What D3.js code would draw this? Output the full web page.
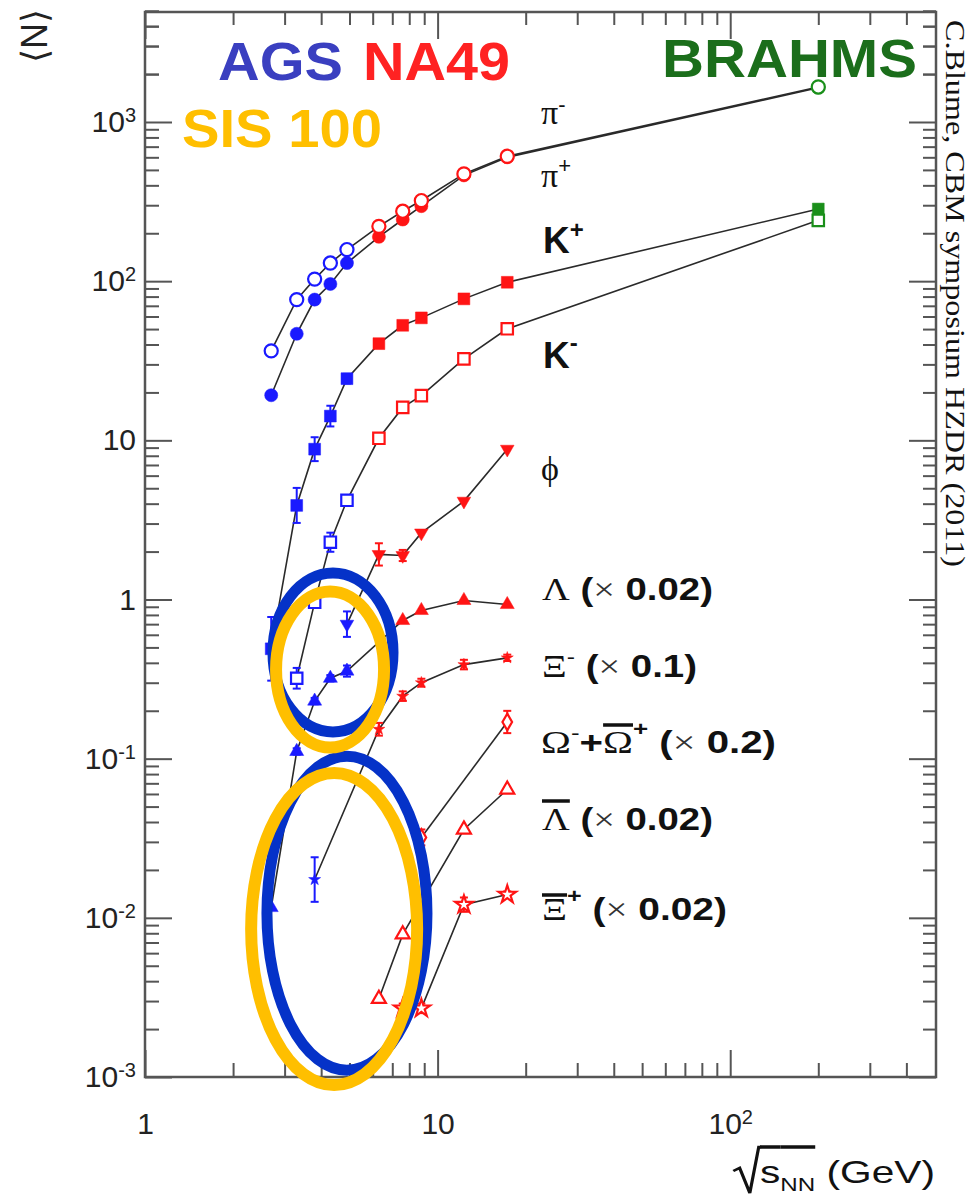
<!DOCTYPE html>
<html>
<head>
<meta charset="utf-8">
<script src="https://cdn.jsdelivr.net/npm/d3@7"></script>
<style>
  body { margin: 0; background: #fff; }
  svg { display: block; }
  text { white-space: pre; }
</style>
</head>
<body>
<script>
// beam energies sqrt(s_NN) in GeV, and which experiment measured them
const energy = [2.7, 3.3, 3.8, 4.3, 4.9, 6.3, 7.6, 8.8, 12.3, 17.3, 200];
const experiment = ['AGS', 'AGS', 'AGS', 'AGS', 'AGS', 'NA49', 'NA49', 'NA49', 'NA49', 'NA49', 'BRAHMS'];

// yields <N>, null = no point
const piMinus   = [36.5, 76.6, 103, 130, 158, 221, 275, 321, 472, 609, 1660];
const piPlus    = [19.2, 46.7, 76.6, 96, 130, 190, 244, 296, 462, 600, 1640];
const kPlus     = [0.49, 3.9, 8.8, 14.2, 24.4, 40.5, 52.8, 58.8, 77.4, 98.4, 284];
const kMinus    = [null, 0.32, 0.96, 2.29, 4.2, 10.3, 16.1, 19.1, 32.5, 50.2, 241];
const phi       = [null, null, null, null, 0.70, 1.92, 1.89, 2.62, 4.15, 8.8, null];
const lambda    = [0.0116, 0.111, 0.23, 0.32, 0.355, null, 0.738, 0.853, 0.986, 0.93, null];
const xiMinus   = [null, null, 0.0174, null, null, 0.153, 0.247, 0.30, 0.39, 0.43, null];
const omega     = [null, null, null, null, null, null, null, 0.032, null, 0.17, null];
const lambdaBar = [null, null, null, null, null, 0.0031, 0.00787, null, 0.0359, 0.064, null];
const xiBar     = [null, null, null, null, null, null, 0.0027, 0.0027, 0.0121, 0.014, null];

// error bars, half-length in decades
const kPlusErr   = [0.2, 0.11, 0.075, 0.065, 0.03, 0, 0, 0, 0, 0, 0];
const kMinusErr  = [0, 0.065, 0, 0.06, 0.03, 0, 0, 0, 0, 0, 0];
const phiErr     = [0, 0, 0, 0, 0.08, 0.07, 0.035, 0, 0, 0, 0];
const lambdaErr  = [0, 0.02, 0.02, 0.02, 0.035, 0, 0, 0, 0, 0, 0];
const xiMinusErr = [0, 0, 0.14, 0, 0, 0.04, 0.03, 0.025, 0.03, 0.02, 0];
const omegaErr   = [0, 0, 0, 0, 0, 0, 0, 0.05, 0, 0.07, 0];
const xiBarErr   = [0, 0, 0, 0, 0, 0, 0.03, 0.03, 0.045, 0.02, 0];

const xMajor = [1, 10, 100];
const xMinor = [2, 3, 4, 5, 6, 7, 8, 9, 20, 30, 40, 50, 60, 70, 80, 90, 200, 300, 400];
const yMajor = [1e-3, 1e-2, 1e-1, 1, 10, 100, 1000];

// highlighted regions: centre in data coords
const rings = [
  { e: 4.39, v: 0.465, rx: 60, ry: 79.5, color: '#0532c8', w: 11 },
  { e: 4.90, v: 0.0107, rx: 80, ry: 157, color: '#0532c8', w: 11 },
  { e: 4.29, v: 0.363, rx: 54, ry: 78, color: '#ffbf00', w: 12 },
  { e: 4.43, v: 0.0085, rx: 83, ry: 156, color: '#ffbf00', w: 12 }
];

const W = 971, H = 1198;
const SANS = '"Liberation Sans", Arial, sans-serif';
const SERIF = '"Liberation Serif", "Times New Roman", serif';
const AXIS = '#555';
const colors = { AGS: '#1a1aff', NA49: '#ff1414', BRAHMS: '#1a8f1a' };

const svg = d3.select('body').append('svg').attr('width', W).attr('height', H);

const x = d3.scaleLog().domain([1, 505]).range([145, 936]);
const y = d3.scaleLog().domain([1e-3, 4910]).range([1077, 12]);
const [x0, x1] = x.range();
const [y0, y1] = y.range();

// ---- axes (ticks inside on all four sides) ----
const yMinor = [];
yMajor.forEach(d => { for (let k = 2; k <= 9; k++) yMinor.push(d * k); });
yMinor.push(2000, 3000, 4000);

function styleAxis(g) {
  g.select('.domain').remove();
  g.selectAll('.tick line').attr('stroke', AXIS).attr('stroke-width', 2);
}

svg.append('g').attr('transform', `translate(0,${y0})`)
  .call(d3.axisBottom(x).tickValues(xMinor).tickSize(-14).tickFormat(''))
  .call(styleAxis);
const xAxisG = svg.append('g').attr('transform', `translate(0,${y0})`)
  .call(d3.axisBottom(x).tickValues(xMajor).tickSize(-27).tickPadding(36).tickFormat(''))
  .call(styleAxis);
svg.append('g').attr('transform', `translate(0,${y1})`)
  .call(d3.axisTop(x).tickValues(xMinor).tickSize(-13).tickFormat(''))
  .call(styleAxis);
svg.append('g').attr('transform', `translate(0,${y1})`)
  .call(d3.axisTop(x).tickValues(xMajor).tickSize(-27).tickFormat(''))
  .call(styleAxis);

svg.append('g').attr('transform', `translate(${x0},0)`)
  .call(d3.axisLeft(y).tickValues(yMinor).tickSize(-14).tickFormat(''))
  .call(styleAxis);
const yAxisG = svg.append('g').attr('transform', `translate(${x0},0)`)
  .call(d3.axisLeft(y).tickValues(yMajor).tickSize(-27).tickPadding(9).tickFormat(''))
  .call(styleAxis);
svg.append('g').attr('transform', `translate(${x1},0)`)
  .call(d3.axisRight(y).tickValues(yMinor).tickSize(-13).tickFormat(''))
  .call(styleAxis);
svg.append('g').attr('transform', `translate(${x1},0)`)
  .call(d3.axisRight(y).tickValues(yMajor).tickSize(-27).tickFormat(''))
  .call(styleAxis);

svg.append('rect')
  .attr('x', x0).attr('y', y1).attr('width', x1 - x0).attr('height', y0 - y1)
  .attr('fill', 'none').attr('stroke', AXIS).attr('stroke-width', 2.5);

// tick labels like "10^-2"
function powerLabel(text, e) {
  text.attr('font-family', SANS).attr('font-size', 30).attr('fill', '#222');
  if (e === 0) { text.append('tspan').text('1'); return; }
  if (e === 1) { text.append('tspan').text('10'); return; }
  text.append('tspan').text('10');
  text.append('tspan').attr('font-size', 20).attr('dy', '-0.5em').text(e);
}
yAxisG.selectAll('.tick text').each(function(d) {
  powerLabel(d3.select(this), Math.round(Math.log10(d)));
});
xAxisG.selectAll('.tick text').each(function(d) {
  powerLabel(d3.select(this), Math.round(Math.log10(d)));
});

// ---- data ----
const series = [
  { name: 'piPlus',    values: piPlus,    err: null,       shape: d3.symbolCircle,   size: 135, filled: true },
  { name: 'piMinus',   values: piMinus,   err: null,       shape: d3.symbolCircle,   size: 135, filled: false },
  { name: 'kPlus',     values: kPlus,     err: kPlusErr,   shape: d3.symbolSquare,   size: 140, filled: true },
  { name: 'kMinus',    values: kMinus,    err: kMinusErr,  shape: d3.symbolSquare,   size: 130, filled: false },
  { name: 'phi',       values: phi,       err: phiErr,     shape: d3.symbolTriangle, size: 80,  filled: true, flip: true },
  { name: 'lambda',    values: lambda,    err: lambdaErr,  shape: d3.symbolTriangle, size: 85,  filled: true },
  { name: 'xiMinus',   values: xiMinus,   err: xiMinusErr, shape: d3.symbolStar,     size: 45,  filled: true },
  { name: 'omega',     values: omega,     err: omegaErr,   shape: d3.symbolDiamond,  size: 80,  filled: false },
  { name: 'lambdaBar', values: lambdaBar, err: null,       shape: d3.symbolTriangle, size: 85,  filled: false },
  { name: 'xiBar',     values: xiBar,     err: xiBarErr,   shape: d3.symbolStar,     size: 95,  filled: false }
];

const pts = s => s.values.map((v, i) => ({ e: energy[i], v, i, err: s.err ? s.err[i] : 0 }))
  .filter(d => d.v != null);

const line = d3.line().x(d => x(d.e)).y(d => y(d.v));

svg.append('g').selectAll('path').data(series).join('path')
  .attr('d', s => line(pts(s)))
  .attr('fill', 'none').attr('stroke', '#2a2a2a').attr('stroke-width', 1.6);

series.forEach(s => {
  const g = svg.append('g').attr('class', s.name);
  const data = pts(s);
  const eb = g.selectAll('.err').data(data.filter(d => d.err > 0)).join('g')
    .attr('stroke', d => colors[experiment[d.i]]).attr('stroke-width', 2);
  eb.append('line')
    .attr('x1', d => x(d.e)).attr('x2', d => x(d.e))
    .attr('y1', d => y(d.v * Math.pow(10, -d.err))).attr('y2', d => y(d.v * Math.pow(10, d.err)));
  [-1, 1].forEach(k => eb.append('line')
    .attr('x1', d => x(d.e) - 4).attr('x2', d => x(d.e) + 4)
    .attr('y1', d => y(d.v * Math.pow(10, k * d.err))).attr('y2', d => y(d.v * Math.pow(10, k * d.err))));

  g.selectAll('.mk').data(data).join('path')
    .attr('d', d3.symbol(s.shape, s.size))
    .attr('transform', d => `translate(${x(d.e)},${y(d.v)})` + (s.flip ? ' rotate(180)' : ''))
    .attr('fill', d => s.filled ? colors[experiment[d.i]] : '#fff')
    .attr('stroke', d => colors[experiment[d.i]])
    .attr('stroke-width', s.filled ? 0.5 : 2.2);
});

// ---- text ----
function rich(x0, yb, parts, targetW) {
  const g = svg.append('g').attr('transform', `translate(${x0},${yb})`);
  let cx = 0;
  parts.forEach(p => {
    const t = g.append('text')
      .attr('x', cx).attr('y', -(p.raise || 0))
      .attr('font-family', p.serif ? SERIF : SANS)
      .attr('font-size', p.size || 31)
      .attr('font-weight', p.bold ? 'bold' : 'normal')
      .attr('fill', p.color || '#111')
      .text(p.t);
    const w = t.node().getComputedTextLength();
    if (p.over) {
      g.append('line').attr('x1', cx).attr('x2', cx + w)
        .attr('y1', -p.over).attr('y2', -p.over)
        .attr('stroke', '#111').attr('stroke-width', 3.5);
    }
    cx += w;
  });
  if (targetW) g.attr('transform', `translate(${x0},${yb}) scale(${targetW / cx},1)`);
  return g;
}

const lx = 541;
rich(lx, 124, [{ t: 'π', serif: true, size: 34 }, { t: '-', size: 22, raise: 12 }]);
rich(lx, 187, [{ t: 'π', serif: true, size: 34 }, { t: '+', size: 22, raise: 14 }]);
rich(lx + 2, 253, [{ t: 'K', bold: true, size: 37 }, { t: '+', bold: true, size: 24, raise: 15 }]);
rich(lx + 2, 368, [{ t: 'K', bold: true, size: 37 }, { t: '-', bold: true, size: 24, raise: 17 }]);
rich(lx, 480, [{ t: 'ϕ', serif: true, size: 34 }]);

const sp = '\u00a0';
const times = { t: '×', serif: true, size: 31, color: '#333' };
rich(lx + 1, 600, [{ t: 'Λ', serif: true }, { t: sp + '(', bold: true }, times, { t: sp + '0.02)', bold: true }], 171);
rich(lx + 1, 677, [{ t: 'Ξ', serif: true }, { t: '-', size: 20, raise: 13 }, { t: sp + '(', bold: true }, times,
  { t: sp + '0.1)', bold: true }], 155);
rich(lx, 753, [{ t: 'Ω', serif: true }, { t: '-', size: 20, raise: 13 }, { t: '+', bold: true },
  { t: 'Ω', serif: true, over: 28 }, { t: '+', bold: true, size: 20, raise: 17 }, { t: sp + '(', bold: true }, times,
  { t: sp + '0.2)', bold: true }], 235);
rich(lx + 1, 830, [{ t: 'Λ', serif: true, over: 29 }, { t: sp + '(', bold: true }, times, { t: sp + '0.02)', bold: true }], 171);
rich(lx + 1, 920, [{ t: 'Ξ', serif: true, over: 25 }, { t: '+', bold: true, size: 20, raise: 17 }, { t: sp + '(', bold: true },
  times, { t: sp + '0.02)', bold: true }], 185);

// experiment names
function big(txt, xl, yb, len, color) {
  svg.append('text').attr('x', xl).attr('y', yb)
    .attr('font-family', SANS).attr('font-weight', 'bold').attr('font-size', 53)
    .attr('textLength', len).attr('lengthAdjust', 'spacingAndGlyphs')
    .attr('fill', color).text(txt);
}
big('AGS', 218, 80, 125, '#3a3fc0');
big('NA49', 363, 80, 147, '#ff2222');
big('BRAHMS', 662, 77, 255, '#1b6e1b');
big('SIS 100', 182, 147, 200, '#ffbf00');

// axis titles
svg.append('text')
  .attr('transform', 'translate(47,36) rotate(-90)')
  .attr('text-anchor', 'middle')
  .attr('font-family', SANS).attr('font-size', 36).attr('fill', '#222')
  .text('⟨N⟩');

const xt = rich(760, 1183, [{ t: 's', size: 32, over: 36 }, { t: 'NN', size: 19, raise: -8, over: 36 },
  { t: sp + '(GeV)', size: 32 }], 175);
xt.append('path')
  .attr('d', 'M-21,-12 L-16,-15 L-8,10 L-1,-36 L1,-36')
  .attr('fill', 'none').attr('stroke', '#111').attr('stroke-width', 2.5);

svg.append('text')
  .attr('transform', 'translate(946,20) rotate(90)')
  .attr('font-family', SERIF).attr('font-size', 27).attr('fill', '#111')
  .attr('textLength', 547).attr('lengthAdjust', 'spacingAndGlyphs')
  .text('C.Blume, CBM symposium HZDR (2011)');

// ---- highlight rings ----
svg.append('g').selectAll('ellipse').data(rings).join('ellipse')
  .attr('cx', d => x(d.e)).attr('cy', d => y(d.v))
  .attr('rx', d => d.rx).attr('ry', d => d.ry)
  .attr('fill', 'none').attr('stroke', d => d.color).attr('stroke-width', d => d.w);
</script>
</body>
</html>
